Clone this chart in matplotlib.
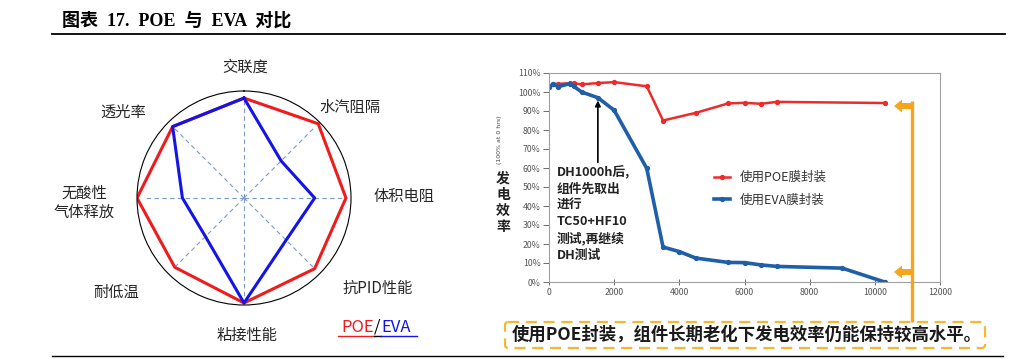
import numpy as np
import matplotlib
matplotlib.use("Agg")
from matplotlib import pyplot as plt
from matplotlib.patches import FancyArrow, FancyBboxPatch

plt.rcParams['font.family'] = ['Noto Sans CJK SC', 'DejaVu Sans']

# radar data (relative scores, 1.0 = end of dashed spokes)
radar_labels = ["交联度", "水汽阻隔", "体积电阻", "抗PID性能", "粘接性能", "耐低温", "无酸性\n气体释放", "透光率"]
poe_scores = [0.99, 1.04, 1.01, 0.99, 1.04, 0.97, 1.06, 1.00]
eva_scores = [0.99, 0.52, 0.70, 0.59, 1.04, 0.54, 0.61, 1.00]

# damp-heat ageing curves
poe_hours = [0, 130, 280, 640, 760, 1000, 1500, 2000, 3000, 3500, 4500, 5500, 6000, 6500, 7000, 10300]
poe_eff = [102.5, 104.0, 104.3, 104.6, 104.6, 104.0, 104.7, 105.2, 103.0, 85.0, 89.0, 94.0, 94.3, 93.8, 94.8, 94.2]
eva_hours = [0, 130, 280, 640, 760, 1000, 1500, 2000, 3000, 3500, 4000, 4500, 5500, 6000, 6500, 7000, 9000, 10300]
eva_eff = [102.6, 104.3, 102.8, 104.4, 103.0, 100.0, 97.0, 90.4, 59.8, 18.4, 16.0, 12.6, 10.3, 10.2, 9.0, 8.2, 7.3, 0.0]
yticks_pct = list(range(0, 111, 10))
xticks_h = list(range(0, 12001, 2000))

W, H = 1024, 361
fig = plt.figure(figsize=(W / 100, H / 100), dpi=100)

# ---- radar (left) ----
cx, cy, rad = 244, 198, 107
axr = fig.add_axes([(cx - rad) / W, (H - cy - rad) / H, 2 * rad / W, 2 * rad / H], projection='polar')
axr.set_theta_zero_location('N')
axr.set_theta_direction(-1)
axr.set_ylim(0, 1.06)
axr.grid(False)
axr.set_xticks([])
axr.set_yticks([])
axr.spines['polar'].set_color('black')
axr.spines['polar'].set_linewidth(0.8)
theta = np.linspace(0, 2 * np.pi, len(radar_labels), endpoint=False)
for th in theta:
    axr.plot([th, th], [0, 1.0], ls='--', color='#7a9cc8', lw=0.8, dashes=(4, 3))
th_c = np.append(theta, theta[0])
axr.plot(th_c, poe_scores + poe_scores[:1], color='#ee1c1c', lw=2.2)
axr.plot(th_c, eva_scores + eva_scores[:1], color='#1414e6', lw=2.2)

# ---- line chart (right) ----
axl = fig.add_axes([549 / W, (H - 282) / H, 391 / W, 209 / H])
axl.plot(poe_hours, poe_eff, color='#ee2a2a', lw=1.8, marker='o', ms=2.8, label='使用POE膜封装')
axl.plot(eva_hours, eva_eff, color='#1f5fa8', lw=2.6, marker='o', ms=2.8, label='使用EVA膜封装')
axl.set_xlim(0, 12000)
axl.set_ylim(0, 110)
axl.set_yticks(yticks_pct)
axl.set_yticklabels([f"{v}%" for v in yticks_pct])
axl.set_xticks(xticks_h)
axl.tick_params(axis='y', labelsize=6.3, colors='#555555', length=4.5, width=0.6, pad=1.5)
axl.tick_params(axis='x', labelsize=6.3, colors='#555555', length=4, width=0.6, direction='inout', pad=2.5)
for s in axl.spines.values():
    s.set_color('#a0a0a0')
    s.set_linewidth(0.8)
axl.legend(loc='center left', bbox_to_anchor=(0.405, 0.445), frameon=False, fontsize=9,
           handlelength=1.3, handletextpad=0.8, borderpad=0, labelspacing=0.75, labelcolor='#333333')
axl.annotate('', xy=(1500, 97), xytext=(1500, 61.5),
             arrowprops=dict(arrowstyle='-|>', color='black', lw=1.2, mutation_scale=8))

# ---- overlay in pixel coordinates ----
ov = fig.add_axes([0, 0, 1, 1], facecolor='none')
ov.set_xlim(0, W)
ov.set_ylim(H, 0)
ov.axis('off')

ov.text(62, 21, "图表  17.  POE  与  EVA  对比", fontsize=13, fontweight='bold', ha='left', va='center',
        family=['Liberation Serif', 'Noto Sans CJK SC'])
ov.plot([52, 1005], [34, 34], color='black', lw=1.3)
ov.plot([52, 1003], [356, 356], color='black', lw=1.0)

label_pos = [(245, 67), (350, 107), (404, 197), (378, 288), (247, 335), (116, 292), (84, 203), (123, 112)]
for lab, (px, py) in zip(radar_labels, label_pos):
    ov.text(px, py, lab, fontsize=11, ha='center', va='center', color='#262626', linespacing=1.15)

ov.text(374, 327, "POE", fontsize=12, color='#ee1c1c', ha='right', va='center')
ov.text(377.5, 327, "/", fontsize=12, color='black', ha='center', va='center')
ov.text(381, 327, "EVA", fontsize=12, color='#1414e6', ha='left', va='center')
ov.plot([338, 374], [336, 336], color='#ee1c1c', lw=1)
ov.plot([374, 381], [336, 336], color='black', lw=1)
ov.plot([381, 417], [336, 336], color='#1414e6', lw=1)

ov.text(500, 140, "(100% at 0 hrs)", fontsize=4.5, rotation=90, ha='center', va='center', color='#444444',
        family=['DejaVu Sans'])
ov.text(503, 203, "发\n电\n效\n率", fontsize=10, fontweight='bold', ha='center', va='center',
        color='#222222', linespacing=1.2)
ov.text(557, 166, "DH1000h后,\n组件先取出\n进行\nTC50+HF10\n测试,再继续\nDH测试", fontsize=9.2,
        fontweight='bold', ha='left', va='top', color='#222222', linespacing=1.32)

orange = '#f7a51c'
ov.plot([912, 912], [101, 322], color=orange, lw=2.4, solid_capstyle='butt')
for ay in (106, 272):
    ov.add_patch(FancyArrow(914, ay, -20, 0, width=6, head_width=13, head_length=8,
                            length_includes_head=True, color=orange, lw=0))

ov.add_patch(FancyBboxPatch((505, 322), 480, 26, boxstyle='round,pad=0,rounding_size=3',
                            fill=False, edgecolor='#f5b82e', lw=1.6, linestyle=(0, (5, 3))))
ov.text(747, 335, "使用POE封装，组件长期老化下发电效率仍能保持较高水平。", fontsize=12.5,
        fontweight='bold', ha='center', va='center', color='#1a1a1a')

fig.savefig("out.png", dpi=100)
